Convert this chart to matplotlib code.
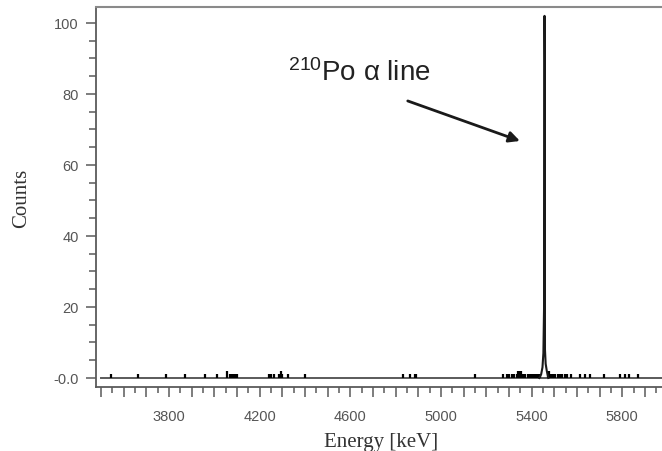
import matplotlib
matplotlib.use('Agg')
import matplotlib.pyplot as plt
from matplotlib.ticker import MultipleLocator, FuncFormatter

plt.rcParams['mathtext.fontset'] = 'custom'
plt.rcParams['mathtext.rm'] = 'Liberation Sans'
plt.rcParams['mathtext.it'] = 'Liberation Sans:italic'

# 谱峰附近（折线）
peak_energy = [5434, 5442, 5448, 5452, 5455, 5456, 5457, 5458, 5459, 5462, 5467, 5474]
peak_counts = [0, 1, 3, 7, 20, 56, 102, 89, 8, 4, 2, 0]

# 本底的零星计数
bg_energy = [3545, 3664, 3787, 3870, 3958, 4011, 4055, 4068, 4076, 4084, 4092, 4099,
             4240, 4252, 4262, 4285, 4293, 4300, 4327, 4402,
             4833, 4864, 4885, 4892, 5149, 5273, 5290, 5300, 5312, 5322, 5335,
             5342, 5348, 5355, 5362, 5372, 5384, 5392, 5400, 5410, 5420, 5430, 5438,
             5472, 5478, 5486, 5495, 5505, 5515, 5525, 5536, 5548, 5558, 5572,
             5615, 5637, 5659, 5721, 5791, 5813, 5831, 5870]
bg_counts = [1, 1, 1, 1, 1, 1, 2, 1, 1, 1, 1, 1,
             1, 1, 1, 1, 2, 1, 1, 1,
             1, 1, 1, 1, 1, 1, 1, 1, 1, 1, 1,
             2, 2, 2, 1, 1, 1, 1, 1, 1, 1, 1, 1,
             2, 2, 1, 1, 1, 1, 1, 1, 1, 1, 1,
             1, 1, 1, 1, 1, 1, 1, 1]

# 能量范围与刻度标签
e_start, e_end = 3500, 5990
x_labels = [3800, 4200, 4600, 5000, 5400, 5800]
y_labels = [0, 20, 40, 60, 80, 100]

fig = plt.figure(figsize=(6.62, 4.52), dpi=100)
ax = fig.add_axes([96 / 662, 64 / 452, 0.86, 380 / 452])

gray = '#5a5a5a'
ax.plot([e_start, e_end], [0, 0], color=gray, lw=1.4, zorder=2)
ax.vlines(bg_energy, 0, bg_counts, color='black', lw=1.6, zorder=3)
ax.plot(peak_energy, peak_counts, color='#1a1a1a', lw=1.5, zorder=4)

ax.set_xlim(3478, 5990)
ax.set_ylim(-2.54, 104.5)

ax.xaxis.set_major_locator(MultipleLocator(100))
ax.xaxis.set_minor_locator(MultipleLocator(50))
ax.xaxis.set_major_formatter(FuncFormatter(lambda v, p: '%d' % v if round(v) in x_labels else ''))
ax.yaxis.set_major_locator(MultipleLocator(20))
ax.yaxis.set_minor_locator(MultipleLocator(5))
ax.yaxis.set_major_formatter(FuncFormatter(
    lambda v, p: '-0.0' if abs(v) < 1e-6 else ('%d' % v if round(v) in y_labels else '')))

ax.tick_params(axis='x', which='major', length=7, width=1.1, color=gray, pad=9,
               labelsize=10.5, labelcolor='#555555')
ax.tick_params(axis='x', which='minor', length=4, width=1.1, color=gray)
ax.tick_params(axis='y', which='major', length=7.5, width=1.1, color=gray, pad=5,
               labelsize=10.5, labelcolor='#555555')
ax.tick_params(axis='y', which='minor', length=5, width=1.1, color=gray)
for lab in ax.get_xticklabels() + ax.get_yticklabels():
    lab.set_family('Liberation Sans')

for s in ['left', 'bottom']:
    ax.spines[s].set_color(gray)
    ax.spines[s].set_linewidth(1.3)
ax.spines['top'].set_color('#8a8a8a')
ax.spines['top'].set_linewidth(1.5)
ax.spines['right'].set_visible(False)

ax.set_xlabel('Energy [keV]', family='Liberation Serif', fontsize=15, color='#333333', labelpad=6)
ax.set_ylabel('Counts', family='Liberation Serif', fontsize=15, color='#333333', labelpad=16)

# 标注
ax.text(4327, 84, r'$^{210}$Po α line', family='Liberation Sans', fontsize=20,
        color='#222222', va='baseline')
ax.annotate('', xy=(5360, 66.5), xytext=(4842, 78.3),
            arrowprops=dict(arrowstyle='-|>', color='#1a1a1a', lw=2, mutation_scale=16))

fig.savefig('out.png', dpi=100)
